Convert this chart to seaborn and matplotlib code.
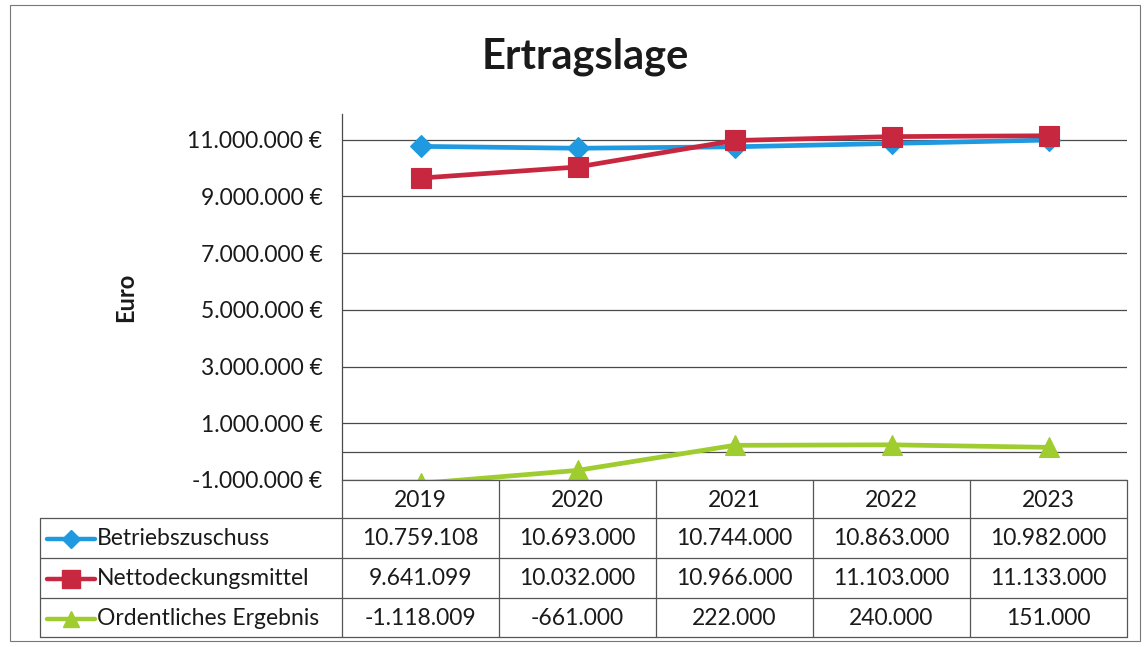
import matplotlib
matplotlib.use("Agg")
import matplotlib.pyplot as plt
from matplotlib.ticker import FuncFormatter, FixedLocator
from matplotlib.lines import Line2D
import seaborn as sns
import pandas as pd

# --- data -------------------------------------------------------------
years = ["2019", "2020", "2021", "2022", "2023"]
betriebszuschuss = [10759108, 10693000, 10744000, 10863000, 10982000]
nettodeckungsmittel = [9641099, 10032000, 10966000, 11103000, 11133000]
ordentliches_ergebnis = [-1118009, -661000, 222000, 240000, 151000]
series_names = ["Betriebszuschuss", "Nettodeckungsmittel", "Ordentliches Ergebnis"]
y_ticks = [-1000000, 1000000, 3000000, 5000000, 7000000, 9000000, 11000000]

series_values = [betriebszuschuss, nettodeckungsmittel, ordentliches_ergebnis]
colors = {"Betriebszuschuss": "#1f9ae0",
          "Nettodeckungsmittel": "#c8283f",
          "Ordentliches Ergebnis": "#9fcc2e"}
markers = {"Betriebszuschuss": "D",
           "Nettodeckungsmittel": "s",
           "Ordentliches Ergebnis": "^"}
marker_sizes = {"Betriebszuschuss": 11, "Nettodeckungsmittel": 15,
                "Ordentliches Ergebnis": 14}

df = pd.DataFrame([
    {"pos": i, "year": y, "series": name, "value": vals[i]}
    for name, vals in zip(series_names, series_values)
    for i, y in enumerate(years)
])


def de_fmt(v):
    return f"{v:,.0f}".replace(",", ".")


sns.set_theme(style="white")
plt.rcParams["font.family"] = ["Lato", "DejaVu Sans"]
TXT = "#1a1a1a"
FS = 16.5

fig = plt.figure(figsize=(11.46, 6.47), dpi=100)
W, H = 1146, 647

# plot area
left, right, top, bottom = 342, 1127, 114, 480
ax = fig.add_axes([left / W, 1 - bottom / H, (right - left) / W, (bottom - top) / H])

for name in series_names:
    sub = df[df["series"] == name]
    sns.lineplot(data=sub, x="pos", y="value", ax=ax, color=colors[name],
                 linewidth=3.4, marker=markers[name],
                 markersize=marker_sizes[name], markeredgewidth=0.8,
                 markeredgecolor=colors[name], legend=False, zorder=3,
                 clip_on=True)

ax.set_xlim(-0.5, len(years) - 0.5)
ax.set_ylim(-1000000, 11900000)
ax.yaxis.set_major_locator(FixedLocator(y_ticks))
ax.yaxis.set_major_formatter(FuncFormatter(lambda v, p: de_fmt(v) + " €"))
ax.tick_params(axis="y", labelsize=FS, colors=TXT, length=0, pad=14)
ax.set_xticks([])
ax.set_xlabel("")
ax.set_ylabel("Euro", fontsize=17, fontweight="bold", color=TXT, labelpad=36)
for t in y_ticks:
    ax.axhline(t, color="#4a4a4a", lw=0.9, zorder=1)
ax.axhline(0, color="#4a4a4a", lw=0.9, zorder=1)
for s in ["top", "right", "bottom"]:
    ax.spines[s].set_visible(False)
ax.spines["left"].set_color("#4a4a4a")
ax.spines["left"].set_linewidth(0.9)

fig.text(585 / W, 1 - 57 / H, "Ertragslage", ha="center", va="center",
         fontsize=30, fontweight="bold", color=TXT)

# data table below the plot area, sharing the category positions
tab_top, tab_bot = 480, 637
tax = fig.add_axes([left / W, 1 - tab_bot / H, (right - left) / W, (tab_bot - tab_top) / H],
                   sharex=ax)
tax.axis("off")
row_edges = [0, 0.96, 1.98, 3.0, 4.0]
tax.set_ylim(row_edges[-1], 0)
px = (len(years)) / (right - left)          # data units per pixel in x
label_left = -0.5 - (left - 40) * px
lc = "#555555"
lw = 0.9
n = len(years)
# horizontal rules
tax.plot([-0.5, n - 0.5], [0, 0], color=lc, lw=lw, clip_on=False)
for r in row_edges[1:]:
    tax.plot([label_left, n - 0.5], [r, r], color=lc, lw=lw, clip_on=False)
# vertical rules
for c in range(n + 1):
    tax.plot([c - 0.5, c - 0.5], [0, row_edges[-1]], color=lc, lw=lw, clip_on=False)
tax.plot([label_left, label_left], [row_edges[1], row_edges[-1]], color=lc, lw=lw,
         clip_on=False)

# header
for i, y in enumerate(years):
    tax.text(i, (row_edges[0] + row_edges[1]) / 2 + 0.04, y, ha="center", va="center",
             fontsize=FS, color=TXT)
# rows with legend keys
for k, (name, vals) in enumerate(zip(series_names, series_values)):
    yc = (row_edges[k + 1] + row_edges[k + 2]) / 2 + 0.03
    x0 = label_left + 7 * px
    x1 = label_left + 55 * px
    tax.add_line(Line2D([x0, x1], [yc, yc], color=colors[name], lw=3.2, clip_on=False))
    tax.add_line(Line2D([(x0 + x1) / 2], [yc], color=colors[name], marker=markers[name],
                        markersize=marker_sizes[name] * 0.85, clip_on=False))
    tax.text(x1 + 2 * px, yc, name, ha="left", va="center", fontsize=FS, color=TXT,
             clip_on=False)
    for i, v in enumerate(vals):
        tax.text(i, yc, de_fmt(v), ha="center", va="center", fontsize=FS, color=TXT)

# outer frame of the chart
fig.patches.append(plt.Rectangle((10 / W, 6 / H), 1130 / W, 636 / H, fill=False,
                                 edgecolor="#777777", lw=0.8,
                                 transform=fig.transFigure, figure=fig))

fig.savefig("out.png", dpi=100)
